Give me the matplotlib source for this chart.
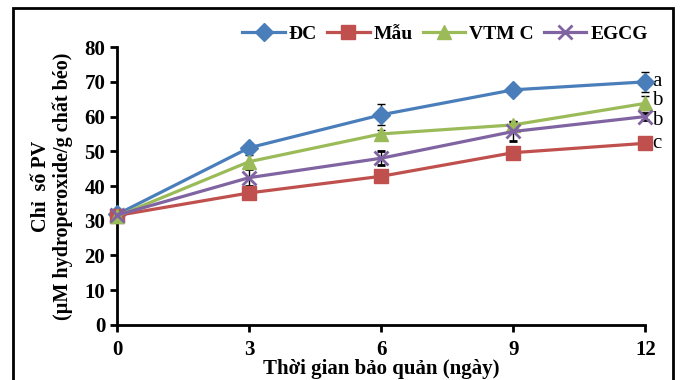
import matplotlib
matplotlib.use("Agg")
import matplotlib.pyplot as plt
from matplotlib.patches import Rectangle
from matplotlib.lines import Line2D

plt.rcParams['font.family'] = ['Liberation Serif', 'DejaVu Serif']

# storage time (days)
days = [0, 3, 6, 9, 12]

# PV values
dc = [31.8, 51.0, 60.5, 67.7, 70.0]
mau = [31.5, 38.0, 42.8, 49.6, 52.3]
vtmc = [31.3, 47.0, 55.0, 57.6, 63.8]
egcg = [31.6, 42.4, 48.0, 55.7, 60.0]

# error bars
dc_err = [0.5, 0.8, 3.0, 0.8, 2.8]
mau_err = [0.5, 0.8, 0.8, 0.8, 0.8]
vtmc_err = [0.5, 2.0, 1.0, 1.0, 2.0]
egcg_err = [0.5, 2.5, 2.0, 2.8, 1.0]

labels = ['ĐC', 'Mẫu', 'VTM C', 'EGCG']
letters = ['a', 'c', 'b', 'b']

fig = plt.figure(figsize=(6.8, 3.8), dpi=100)
ax = fig.add_axes([0.172, 0.145, 0.777, 0.731])

series = [(dc, dc_err, '#4A7EBB', 'D', 9),
          (mau, mau_err, '#C0504D', 's', 10),
          (vtmc, vtmc_err, '#9BBB59', '^', 10),
          (egcg, egcg_err, '#8064A2', 'x', 10)]

handles = []
for (vals, err, col, mk, ms), lab in zip(series, labels):
    ax.errorbar(days, vals, yerr=err, color=col, marker=mk, markersize=ms,
                lw=2.3, mew=2 if mk == 'x' else 1, ecolor='black',
                elinewidth=1, capsize=3, clip_on=False, zorder=3)
    handles.append(Line2D([], [], color=col, marker=mk, markersize=ms, lw=2.3,
                          mew=2 if mk == 'x' else 1, label=lab))

# letters at day 12
let_y = [70.0, 52.3, 64.5, 59.0]
for t, yy in zip(letters, let_y):
    ax.text(12.15, yy, t, fontsize=15, va='center', ha='left')

ax.set_xlim(0, 12)
ax.set_ylim(0, 80)
ax.set_xticks(days)
ax.set_yticks(range(0, 81, 10))
for s in ['top', 'right']:
    ax.spines[s].set_visible(False)
for s in ['left', 'bottom']:
    ax.spines[s].set_linewidth(2)
ax.tick_params(width=2, length=5, labelsize=15)
ax.tick_params(axis='x', pad=6)
for t in ax.get_xticklabels() + ax.get_yticklabels():
    t.set_fontweight('bold')

ax.set_xlabel('Thời gian bảo quản (ngày)', fontsize=15, fontweight='bold', labelpad=-1)
ax.set_ylabel('Chỉ  số PV\n(µM hydroperoxide/g chất béo)', fontsize=14.5,
              fontweight='bold', labelpad=8, linespacing=1.1)

ax.legend(handles=handles, loc='lower right', bbox_to_anchor=(1.03, 0.965), ncol=4,
          frameon=False, prop={'weight': 'bold', 'size': 14}, handlelength=2.2,
          handletextpad=0.2, columnspacing=0.5, borderaxespad=0.3)

# figure frame
fig.patches.append(Rectangle((0.019, -0.1), 0.971, 1.079, transform=fig.transFigure,
                             fill=False, edgecolor='black', lw=2))

fig.savefig('out.png', dpi=100)
